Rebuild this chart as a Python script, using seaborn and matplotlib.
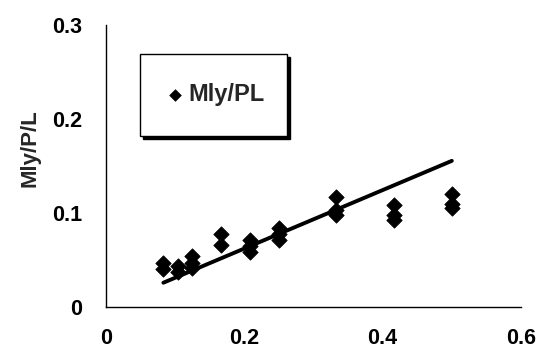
import numpy as np
import pandas as pd
import matplotlib
matplotlib.use("Agg")
import matplotlib.pyplot as plt
import seaborn as sns

# Span-ratio groups (x) and the measured Mly/P/L values for each group
x_groups = [0.083, 0.104, 0.125, 0.167, 0.208, 0.250, 0.333, 0.417, 0.500]
y_values = [
    [0.047, 0.040],
    [0.044, 0.037],
    [0.054, 0.047, 0.042],
    [0.078, 0.066],
    [0.071, 0.065, 0.058],
    [0.084, 0.078, 0.071],
    [0.117, 0.103, 0.098],
    [0.108, 0.098, 0.093],
    [0.120, 0.110, 0.105],
]
# Linear trend line: y = slope * x + intercept
trend_slope = 0.311
trend_intercept = 0.0

x_ticks = [0, 0.2, 0.4, 0.6]
x_tick_labels = ["0", "0.2", "0.4", "0.6"]
y_ticks = [0, 0.1, 0.2, 0.3]
y_tick_labels = ["0", "0.1", "0.2", "0.3"]

rows = [(x, y) for x, ys in zip(x_groups, y_values) for y in ys]
df = pd.DataFrame(rows, columns=["ratio", "Mly/PL"])

sns.set_style("white")
plt.rcParams["font.family"] = ["Liberation Sans", "DejaVu Sans"]
plt.rcParams["font.weight"] = "bold"

fig = plt.figure(figsize=(5.49, 3.58), dpi=100)
ax = fig.add_axes([0.193, 0.1425, 0.756, 0.7875])

sns.scatterplot(data=df, x="ratio", y="Mly/PL", marker="D", s=62,
                color="black", edgecolor="black", linewidth=0.5,
                label="Mly/PL", ax=ax, zorder=3)

tx = np.array([min(x_groups), max(x_groups)])
sns.lineplot(x=tx, y=trend_slope * tx + trend_intercept, color="black",
             linewidth=2.8, ax=ax, legend=False, zorder=2)

ax.set_xlim(0, 0.6)
ax.set_ylim(0, 0.3)
ax.set_xticks(x_ticks)
ax.set_xticklabels(x_tick_labels, fontsize=15.5, fontweight="bold")
ax.set_yticks(y_ticks)
ax.set_yticklabels(y_tick_labels, fontsize=15.5, fontweight="bold")
ax.tick_params(axis="both", direction="in", length=5, width=1, colors="black")
ax.tick_params(axis="x", pad=15)
ax.tick_params(axis="y", pad=17)
for side in ["top", "right"]:
    ax.spines[side].set_visible(False)
for side in ["left", "bottom"]:
    ax.spines[side].set_color("black")
    ax.spines[side].set_linewidth(1.0)

ax.set_xlabel("")
ax.set_ylabel("Mly/P/L", fontsize=16, fontweight="bold")
ax.yaxis.set_label_coords(-0.158, 0.565)

leg = ax.legend(loc="center", bbox_to_anchor=(0.082, 0.61, 0.354, 0.284),
                mode="expand", frameon=True, fancybox=False,
                shadow={"color": "black", "alpha": 1.0},
                prop={"size": 17, "weight": "bold"}, borderpad=1.25,
                handlelength=0.5, handletextpad=0.3, borderaxespad=0,
                markerscale=0.75)
leg.get_frame().set_edgecolor("black")
leg.get_frame().set_linewidth(1.0)

fig.savefig("out.png", dpi=100)
